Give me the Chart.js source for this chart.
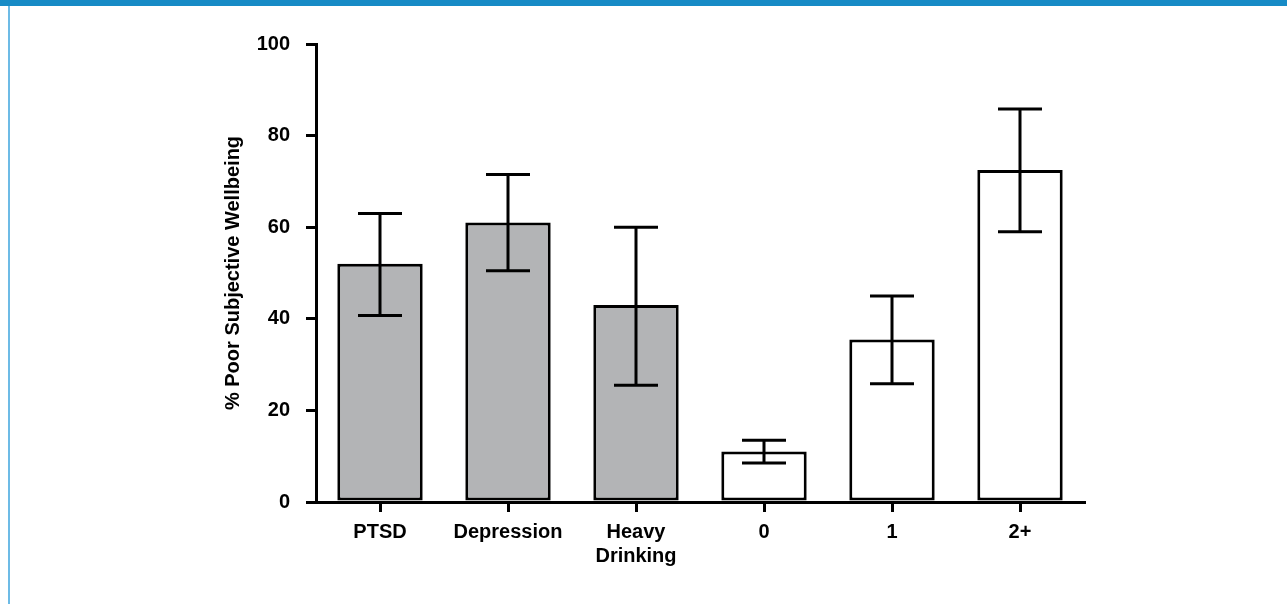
<!DOCTYPE html>
<html>
<head>
<meta charset="utf-8">
<script src="https://cdn.jsdelivr.net/npm/chart.js@4/dist/chart.umd.min.js"></script>
<style>
  html, body { margin: 0; padding: 0; background: #fff; }
  #wrap { position: absolute; left: 0; top: 0; width: 1287px; height: 604px; }
  #topbar { position: absolute; left: 0; top: 0; width: 1287px; height: 6px; background: #178bc6; }
  #leftline { position: absolute; left: 8px; top: 6px; width: 2px; height: 598px; background: #6dbbe6; }
</style>
</head>
<body>
<div id="wrap"><canvas id="c" width="1287" height="604"></canvas></div>
<div id="topbar"></div>
<div id="leftline"></div>
<script>
const categories = ["PTSD", "Depression", ["Heavy", "Drinking"], "0", "1", "2+"];
const values = [52, 61, 43, 11, 35.5, 72.5];
const errLow = [40.7, 50.5, 25.5, 8.5, 25.8, 59];
const errHigh = [63, 71.5, 60, 13.5, 45, 85.8];
const barColors = ["#b3b4b6", "#b3b4b6", "#b3b4b6", "#ffffff", "#ffffff", "#ffffff"];
const yTicks = [0, 20, 40, 60, 80, 100];

const FONT = "'Liberation Sans', Arial, sans-serif";

const errorBars = {
  id: "errorBars",
  afterDatasetsDraw(chart) {
    const { ctx, scales: { x, y } } = chart;
    ctx.save();
    ctx.strokeStyle = "#000";
    ctx.lineWidth = 3;
    ctx.lineCap = "butt";
    values.forEach((v, i) => {
      const cx = x.getPixelForValue(i);
      const yl = y.getPixelForValue(errLow[i]);
      const yh = y.getPixelForValue(errHigh[i]);
      ctx.beginPath();
      ctx.moveTo(cx, yl);
      ctx.lineTo(cx, yh);
      ctx.moveTo(cx - 22, yh);
      ctx.lineTo(cx + 22, yh);
      ctx.moveTo(cx - 22, yl);
      ctx.lineTo(cx + 22, yl);
      ctx.stroke();
    });
    ctx.restore();
  },
};

new Chart(document.getElementById("c"), {
  type: "bar",
  data: {
    labels: categories,
    datasets: [{
      data: values,
      backgroundColor: barColors,
      borderColor: "#000",
      borderWidth: 3,
      borderSkipped: false,
      categoryPercentage: 1,
      barPercentage: 0.667,
    }],
  },
  options: {
    responsive: false,
    animation: false,
    devicePixelRatio: 1,
    layout: { padding: { left: 221, right: 203, top: 44, bottom: 0 } },
    plugins: { legend: { display: false }, tooltip: { enabled: false } },
    scales: {
      x: {
        afterFit: (s) => { s.height = 102; },
        grid: { offset: false, drawOnChartArea: false, color: "#000", lineWidth: 3, tickLength: 10 },
        border: { display: true, color: "#000", width: 3 },
        ticks: { color: "#000", font: { family: FONT, size: 20, weight: "bold", lineHeight: 1.2 }, padding: 8, maxRotation: 0 },
      },
      y: {
        min: 0,
        max: 100,
        afterFit: (s) => { s.width = 95; },
        afterBuildTicks: (s) => { s.ticks = yTicks.map((v) => ({ value: v })); },
        grid: { drawOnChartArea: false, color: "#000", lineWidth: 3, tickLength: 10 },
        border: { display: true, color: "#000", width: 3 },
        ticks: { color: "#000", font: { family: FONT, size: 20, weight: "bold" }, padding: 16 },
        title: {
          display: true,
          text: "% Poor Subjective Wellbeing",
          color: "#000",
          font: { family: FONT, size: 20, weight: "bold" },
          padding: 0,
        },
      },
    },
  },
  plugins: [errorBars],
});
</script>
</body>
</html>
